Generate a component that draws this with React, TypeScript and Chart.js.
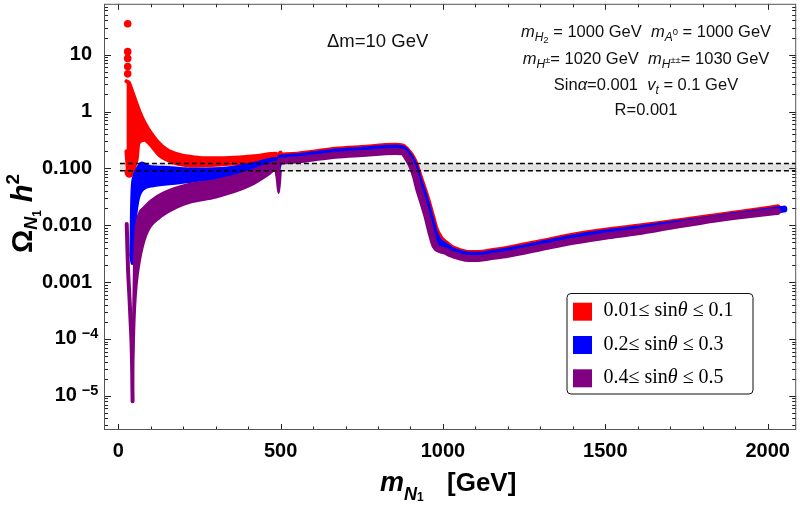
import React, { useEffect, useRef } from 'react';
import { Chart, registerables } from 'chart.js';

Chart.register(...registerables);

// ---------------- data ----------------
const seriesLabels = ['0.01≤ sinθ ≤ 0.1', '0.2≤ sinθ ≤ 0.3', '0.4≤ sinθ ≤ 0.5'];
const seriesColors = ['#ff0000', '#0000ff', '#800080'];

// red: 0.01 <= sin(theta) <= 0.1
const redSpikeDots: [number, number][] = [[29, 35], [29, 11.3], [29, 8.6], [29, 6.2], [29, 4.6], [31, 0.085], [34, 0.08]];
const redBandUpper: [number, number][] = [[25, 3.4], [33, 3.2], [40, 2.5], [52, 1.6], [65, 1.0], [80, 0.65], [100, 0.42], [122, 0.29], [150, 0.21], [189, 0.172], [230, 0.157], [260, 0.15], [342, 0.152], [420, 0.164], [485, 0.18], [492, 0.172], [500, 0.19]];
const redBandLower: [number, number][] = [[25, 0.2], [30, 0.095], [36, 0.08], [45, 0.09], [52, 0.12], [57, 0.15], [62, 0.28], [80, 0.32], [97, 0.27], [128, 0.168], [169, 0.128], [240, 0.112], [342, 0.12], [420, 0.135], [485, 0.158], [492, 0.15], [500, 0.165]];
const redCurve: [number, number][] = [[500, 0.164], [550, 0.171], [600, 0.185], [669, 0.208], [750, 0.224], [853, 0.244], [875, 0.238], [894, 0.188], [905, 0.152], [915, 0.115], [925, 0.0769], [935, 0.0522], [950, 0.0285], [965, 0.0142], [976, 0.00851], [991, 0.00583], [1006, 0.00482], [1025, 0.00397], [1050, 0.00346], [1080, 0.00318], [1110, 0.00318], [1150, 0.00342], [1200, 0.00378], [1300, 0.00492], [1400, 0.00639], [1500, 0.00782], [1600, 0.00919], [1700, 0.011], [1800, 0.0132], [1900, 0.0158], [2000, 0.019], [2030, 0.0202]];

// blue: 0.2 <= sin(theta) <= 0.3
const blueBandUpper: [number, number][] = [[38, 0.003], [40, 0.02], [42, 0.045], [48, 0.075], [56, 0.095], [64, 0.115], [72, 0.125], [85, 0.118], [100, 0.108], [138, 0.106], [200, 0.1], [240, 0.098], [342, 0.104], [420, 0.125], [485, 0.15], [492, 0.142], [500, 0.16]];
const blueBandLower: [number, number][] = [[38, 0.003], [42, 0.0021], [44, 0.0021], [51, 0.0091], [61, 0.0267], [77, 0.0428], [107, 0.049], [189, 0.055], [240, 0.06], [342, 0.068], [420, 0.08], [485, 0.096], [492, 0.085], [500, 0.12]];
const blueCurve: [number, number][] = [[500, 0.153], [550, 0.16], [600, 0.173], [669, 0.194], [750, 0.209], [853, 0.228], [875, 0.222], [894, 0.171], [905, 0.135], [915, 0.0988], [925, 0.0637], [935, 0.0427], [950, 0.0229], [965, 0.0111], [976, 0.00676], [991, 0.005], [1006, 0.00434], [1025, 0.00366], [1050, 0.00322], [1080, 0.00297], [1110, 0.00297], [1150, 0.0032], [1200, 0.00353], [1300, 0.00459], [1400, 0.00597], [1500, 0.0073], [1600, 0.00858], [1700, 0.0103], [1800, 0.0123], [1900, 0.0148], [2000, 0.0177], [2050, 0.0192]];

// purple: 0.4 <= sin(theta) <= 0.5
const purpleBranch: [number, number][] = [[26, 0.0105], [28, 0.004], [30, 0.0017], [34, 6e-4], [38, 2e-4], [41, 8e-5], [43, 2.5e-5], [44, 8e-6]];
const purpleBandUpper: [number, number][] = [[44, 8e-6], [46, 2e-4], [49, 0.002], [53, 0.007], [58, 0.012], [66, 0.017], [77, 0.02], [100, 0.027], [138, 0.037], [220, 0.053], [301, 0.062], [404, 0.088], [465, 0.12], [485, 0.13], [490, 0.12], [500, 0.14]];
const purpleBandLower: [number, number][] = [[44, 8e-6], [46, 4e-5], [48, 1.2e-4], [51, 3.4e-4], [56, 9e-4], [66, 0.0024], [87, 0.007], [128, 0.0136], [179, 0.0204], [220, 0.025], [301, 0.031], [404, 0.049], [465, 0.08], [483, 0.095], [488, 0.07], [494, 0.037], [500, 0.09]];
const purpleCurve: [number, number][] = [[500, 0.134], [550, 0.14], [600, 0.152], [669, 0.17], [750, 0.183], [853, 0.199], [875, 0.195], [894, 0.142], [905, 0.107], [915, 0.0733], [925, 0.0439], [935, 0.0288], [950, 0.0149], [965, 0.00682], [976, 0.00432], [991, 0.00371], [1006, 0.00352], [1025, 0.00311], [1050, 0.0028], [1080, 0.0026], [1110, 0.0026], [1150, 0.0028], [1200, 0.00309], [1300, 0.00402], [1400, 0.00522], [1500, 0.00639], [1600, 0.00766], [1700, 0.00956], [1800, 0.0119], [1900, 0.0143], [2000, 0.0168], [2030, 0.0175]];

// relic density band (dashed lines)
const relicLow = 0.091;
const relicHigh = 0.122;
const relicXRange = [5, 2088];

// axes
const X_MIN = -44;
const X_MAX = 2088;
const Y_MIN = 2.5e-6;
const Y_MAX = 78.5;
const xTickValues = [0, 500, 1000, 1500, 2000];
const yTickValues = [10, 1, 0.1, 0.01, 0.001, 1e-4, 1e-5];
const yTickLabels = ['10', '1', '0.100', '0.010', '0.001', '10', '10'];
const yTickExponents = ['', '', '', '', '', '−4', '−5'];
const EXP_PAD = '\u2007\u2009';

// ---------------- helpers ----------------
const SANS = "'Liberation Sans', Arimo, Arial, Helvetica, sans-serif";
const SERIF = "'Liberation Serif', 'Times New Roman', serif";
const TICK_FONT = `bold 20px ${SANS}`;

const pts = (a: [number, number][]) => a.map(([x, y]) => ({ x, y }));

function curve(data: [number, number][], color: string, width: number, order: number, extra: any = {}) {
  return {
    data: pts(data),
    borderColor: color,
    backgroundColor: color,
    borderWidth: width,
    pointRadius: 0,
    pointHoverRadius: 0,
    fill: false,
    order,
    tension: 0,
    cubicInterpolationMode: 'monotone',
    borderCapStyle: 'round',
    borderJoinStyle: 'round',
    ...extra,
  };
}

type Run = { t: string; f: string; dy?: number };

function runsWidth(ctx: CanvasRenderingContext2D, runs: Run[]) {
  let w = 0;
  for (const r of runs) {
    ctx.font = r.f;
    w += ctx.measureText(r.t).width;
  }
  return w;
}

function drawRuns(ctx: CanvasRenderingContext2D, runs: Run[], x: number, y: number, align: 'left' | 'center') {
  let cx = align === 'center' ? x - runsWidth(ctx, runs) / 2 : x;
  ctx.textAlign = 'left';
  ctx.textBaseline = 'alphabetic';
  for (const r of runs) {
    ctx.font = r.f;
    ctx.fillText(r.t, cx, y + (r.dy || 0));
    cx += ctx.measureText(r.t).width;
  }
}

const r16 = `16.5px ${SANS}`;
const i16 = `italic 16.5px ${SANS}`;
const i12 = `italic 12px ${SANS}`;
const r9 = `9.5px ${SANS}`;

const framePlugin = {
  id: 'frameAndText',
  afterDraw(chart: any) {
    const { ctx, chartArea: a, scales } = chart;
    const xs = scales.x;
    const ys = scales.y;
    ctx.save();

    // inward ticks
    ctx.strokeStyle = '#222';
    ctx.lineWidth = 1;
    const seg = (x1: number, y1: number, x2: number, y2: number) => {
      ctx.beginPath();
      ctx.moveTo(x1, y1);
      ctx.lineTo(x2, y2);
      ctx.stroke();
    };
    for (let v = 0; v <= 2000; v += 100) {
      const px = Math.round(xs.getPixelForValue(v)) + 0.5;
      const len = v % 500 === 0 ? 6 : 3.5;
      seg(px, a.bottom, px, a.bottom - len);
      seg(px, a.top, px, a.top + len);
    }
    for (let e = -6; e <= 1; e++) {
      for (let s = 1; s <= 9; s++) {
        const v = s * Math.pow(10, e);
        if (v < Y_MIN || v > Y_MAX) continue;
        const py = Math.round(ys.getPixelForValue(v)) + 0.5;
        const len = s === 1 ? 7 : 4;
        seg(a.left, py, a.left + len, py);
        seg(a.right, py, a.right - len, py);
      }
    }

    // frame
    ctx.strokeStyle = '#555';
    ctx.strokeRect(a.left + 0.5, a.top + 0.5, a.right - a.left - 1, a.bottom - a.top - 1);

    // exponents of the 10^n tick labels, placed right after the "10"
    ctx.fillStyle = '#000';
    ctx.font = TICK_FONT;
    const padW = ctx.measureText('10' + EXP_PAD).width - ctx.measureText('10').width;
    const labelRight = a.left - 4;
    yTickValues.forEach((v, i) => {
      if (!yTickExponents[i]) return;
      const py = ys.getPixelForValue(v);
      drawRuns(ctx, [{ t: yTickExponents[i], f: `bold 14.5px ${SANS}` }], labelRight - padW - 3, py - 1, 'left');
    });

    // annotations
    ctx.fillStyle = '#111';
    drawRuns(ctx, [{ t: 'Δm=10 GeV', f: `18.5px ${SANS}` }], 327, 47, 'left');
    const cxText = 646;
    drawRuns(ctx, [
      { t: 'm', f: i16 }, { t: 'H', f: i12, dy: 4 }, { t: '2', f: r9, dy: 6 },
      { t: ' = 1000 GeV  ', f: r16 },
      { t: 'm', f: i16 }, { t: 'A', f: i12, dy: 4 }, { t: '0', f: r9, dy: -2 },
      { t: ' = 1000 GeV', f: r16 },
    ], cxText, 37, 'center');
    drawRuns(ctx, [
      { t: 'm', f: i16 }, { t: 'H', f: i12, dy: 4 }, { t: '±', f: r9, dy: -1 },
      { t: '= 1020 GeV  ', f: r16 },
      { t: 'm', f: i16 }, { t: 'H', f: i12, dy: 4 }, { t: '±±', f: r9, dy: -1 },
      { t: '= 1030 GeV', f: r16 },
    ], cxText, 64, 'center');
    drawRuns(ctx, [
      { t: 'Sin', f: r16 }, { t: 'α', f: i16 }, { t: '=0.001  ', f: r16 },
      { t: 'v', f: i16 }, { t: 't', f: i12, dy: 4 }, { t: ' = 0.1 GeV', f: r16 },
    ], cxText, 89.5, 'center');
    drawRuns(ctx, [{ t: 'R=0.001', f: r16 }], cxText, 115, 'center');

    // axis titles
    ctx.fillStyle = '#000';
    drawRuns(ctx, [
      { t: 'm', f: `bold italic 27px ${SANS}` },
      { t: 'N', f: `bold italic 18px ${SANS}`, dy: 9 },
      { t: '1', f: `bold 12px ${SANS}`, dy: 10 },
    ], 380, 491, 'left');
    drawRuns(ctx, [{ t: '[GeV]', f: `bold 26px ${SANS}` }], 447, 491, 'left');

    ctx.save();
    ctx.translate(32, 253);
    ctx.rotate(-Math.PI / 2);
    drawRuns(ctx, [
      { t: 'Ω', f: `bold 29px ${SANS}` },
      { t: 'N', f: `bold italic 18px ${SANS}`, dy: 5 },
      { t: '1', f: `bold 12px ${SANS}`, dy: 9 },
      { t: '  ', f: `bold 14px ${SANS}` },
      { t: 'h', f: `bold italic 29px ${SANS}` },
      { t: '2', f: `bold 19px ${SANS}`, dy: -13 },
    ], 0, 0, 'left');
    ctx.restore();

    // legend
    const bx = 567, by = 293.5, bw = 186, bh = 100.5, rr = 4;
    ctx.beginPath();
    ctx.moveTo(bx + rr, by);
    ctx.lineTo(bx + bw - rr, by);
    ctx.arcTo(bx + bw, by, bx + bw, by + rr, rr);
    ctx.lineTo(bx + bw, by + bh - rr);
    ctx.arcTo(bx + bw, by + bh, bx + bw - rr, by + bh, rr);
    ctx.lineTo(bx + rr, by + bh);
    ctx.arcTo(bx, by + bh, bx, by + bh - rr, rr);
    ctx.lineTo(bx, by + rr);
    ctx.arcTo(bx, by, bx + rr, by, rr);
    ctx.closePath();
    ctx.fillStyle = '#fff';
    ctx.fill();
    ctx.strokeStyle = '#111';
    ctx.lineWidth = 1;
    ctx.stroke();
    seriesLabels.forEach((lab, i) => {
      const cy = by + 18.2 + i * 33.3;
      ctx.fillStyle = seriesColors[i];
      ctx.fillRect(573, cy - 9, 19, 18);
      ctx.fillStyle = '#000';
      const [pre, post] = lab.split('θ');
      drawRuns(ctx, [
        { t: pre, f: `20px ${SERIF}` },
        { t: 'θ', f: `italic 20px ${SERIF}` },
        { t: post, f: `20px ${SERIF}` },
      ], 603.5, cy + 4.5, 'left');
    });

    ctx.restore();
  },
};

export default function App() {
  const ref = useRef<HTMLCanvasElement>(null);

  useEffect(() => {
    if (!ref.current) return;
    const [red, blue, purple] = seriesColors;
    const datasets: any[] = [
      curve([[relicXRange[0], relicHigh], [relicXRange[1], relicHigh]], 'rgba(0,0,0,0)', 0, 100),
      { ...curve([[relicXRange[0], relicLow], [relicXRange[1], relicLow]], 'rgba(0,0,0,0)', 0, 101), fill: '-1', backgroundColor: '#e2e2e2' },
      curve(redBandUpper, red, 4, 92),
      { ...curve(redBandLower, red, 4, 93), fill: '-1' },
      { ...curve(redCurve, red, 7, 91), label: seriesLabels[0] },
      { ...curve(redSpikeDots, red, 0, 90), showLine: false, pointRadius: 3.8, pointBorderWidth: 0, pointBackgroundColor: red, cubicInterpolationMode: 'default' },
      curve(blueBandUpper, blue, 2.5, 82),
      { ...curve(blueBandLower, blue, 2.5, 83), fill: '-1' },
      { ...curve(blueCurve, blue, 7, 81), label: seriesLabels[1] },
      curve(purpleBranch, purple, 4, 74),
      curve(purpleBandUpper, purple, 2.5, 72),
      { ...curve(purpleBandLower, purple, 2.5, 73), fill: '-1' },
      { ...curve(purpleCurve, purple, 7, 71), label: seriesLabels[2] },
      { ...curve([[relicXRange[0], relicHigh], [relicXRange[1], relicHigh]], '#000', 1.4, 2), borderDash: [5, 3], borderCapStyle: 'butt' },
      { ...curve([[relicXRange[0], relicLow], [relicXRange[1], relicLow]], '#000', 1.4, 3), borderDash: [5, 3], borderCapStyle: 'butt' },
    ];

    const chart = new Chart(ref.current, {
      type: 'line',
      data: { datasets },
      options: {
        responsive: false,
        animation: false,
        devicePixelRatio: 1,
        events: [],
        layout: { padding: { top: 2, right: 1, left: 0, bottom: 0 } },
        plugins: {
          legend: { display: false },
          tooltip: { enabled: false },
          title: { display: false },
        },
        scales: {
          x: {
            type: 'linear',
            min: X_MIN,
            max: X_MAX,
            grid: { display: false },
            border: { display: false },
            afterBuildTicks: (s: any) => {
              s.ticks = xTickValues.map((v) => ({ value: v }));
            },
            afterFit: (s: any) => {
              s.height = 76;
              s.paddingLeft = 0;
              s.paddingRight = 0;
            },
            ticks: {
              autoSkip: false,
              maxRotation: 0,
              padding: 1,
              color: '#000',
              font: { family: SANS, size: 20, weight: 'bold' },
              callback: (v: any) => String(v),
            },
          },
          y: {
            type: 'logarithmic',
            min: Y_MIN,
            max: Y_MAX,
            grid: { display: false },
            border: { display: false },
            afterBuildTicks: (s: any) => {
              s.ticks = yTickValues.map((v) => ({ value: v }));
            },
            afterFit: (s: any) => {
              s.width = 104;
              s.paddingTop = 0;
              s.paddingBottom = 0;
            },
            ticks: {
              autoSkip: false,
              padding: 4,
              color: '#000',
              font: { family: SANS, size: 20, weight: 'bold' },
              callback: (v: any) => {
                const i = yTickValues.findIndex((t) => Math.abs(Math.log10(t) - Math.log10(Number(v))) < 1e-6);
                if (i < 0) return '';
                return yTickExponents[i] ? yTickLabels[i] + EXP_PAD : yTickLabels[i];
              },
            },
          },
        },
      },
      plugins: [framePlugin],
    } as any);

    return () => chart.destroy();
  }, []);

  return (
    <div style={{ position: 'fixed', left: 0, top: 0, width: 800, height: 506, background: '#fff' }}>
      <canvas ref={ref} width={800} height={506} style={{ display: 'block' }} />
    </div>
  );
}
